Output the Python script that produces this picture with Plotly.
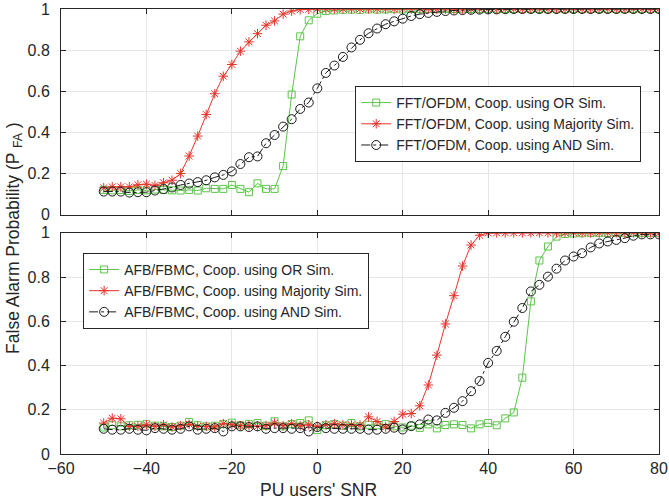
import plotly.graph_objects as go

snr = [-50, -48, -46, -44, -42, -40, -38, -36, -34, -32, -30, -28, -26, -24, -22, -20,
       -18, -16, -14, -12, -10, -8, -6, -4, -2, 0, 2, 4, 6, 8, 10, 12, 14, 16, 18, 20,
       22, 24, 26, 28, 30, 32, 34, 36, 38, 40, 42, 44, 46, 48, 50, 52, 54, 56, 58, 60,
       62, 64, 66, 68, 70, 72, 74, 76, 78, 80]

# Top panel: FFT/OFDM
ofdm_or = [0.12, 0.118, 0.12, 0.115, 0.12, 0.118, 0.122, 0.12, 0.118,
           0.117, 0.12, 0.117, 0.128, 0.125, 0.125, 0.144, 0.125, 0.109, 0.152, 0.125, 0.125,
           0.236, 0.584, 0.867, 0.945, 0.977, 0.99, 0.993, 0.996, 0.997, 0.996, 0.998, 0.997,
           0.998, 0.999, 0.998, 1.0, 0.999, 1.0, 0.999, 1.0, 1.0, 0.999, 1.0, 1.0, 1.0, 0.999,
           1.0, 1.0, 1.0, 1.0, 1.0, 0.999, 1.0, 1.0, 1.0, 1.0, 1.0, 1.0, 1.0, 1.0, 1.0, 1.0,
           1.0, 1.0, 1.0]
ofdm_maj = [0.13, 0.135, 0.135, 0.135, 0.145, 0.148, 0.142, 0.155, 0.167, 0.2, 0.285, 0.382,
            0.487, 0.588, 0.673, 0.73, 0.795, 0.84, 0.88, 0.921, 0.942, 0.975, 0.99, 0.997, 0.999,
            1.0, 1.0, 1.0, 1.0, 1.0, 1.0, 1.0, 1.0, 1.0, 1.0, 1.0, 1.0, 1.0, 1.0, 1.0, 1.0,
            1.0, 1.0, 1.0, 1.0, 1.0, 1.0, 1.0, 1.0, 1.0, 1.0, 1.0, 1.0, 1.0, 1.0, 1.0, 1.0,
            1.0, 1.0, 1.0, 1.0, 1.0, 1.0, 1.0, 1.0, 1.0]
ofdm_and = [0.112, 0.112, 0.112, 0.107, 0.109, 0.109, 0.117, 0.124, 0.132, 0.144, 0.151, 0.158,
            0.167, 0.181, 0.193, 0.21, 0.246, 0.279, 0.283, 0.347, 0.387, 0.428, 0.464, 0.514,
            0.545, 0.614, 0.689, 0.725, 0.767, 0.813, 0.85, 0.882, 0.905, 0.926, 0.94, 0.953,
            0.966, 0.975, 0.981, 0.986, 0.99, 0.993, 0.995, 0.996, 0.997, 0.998, 0.998, 0.999,
            1.0, 1.0, 1.0, 1.0, 1.0, 1.0, 1.0, 1.0, 1.0, 1.0, 1.0, 1.0, 1.0, 1.0, 1.0, 1.0,
            1.0, 1.0]

# Bottom panel: AFB/FBMC
fbmc_or = [0.12, 0.13, 0.125, 0.13, 0.132, 0.135, 0.128, 0.125, 0.122, 0.128, 0.145, 0.13,
           0.125, 0.128, 0.135, 0.142, 0.13, 0.135, 0.14, 0.128, 0.148, 0.125, 0.135, 0.14,
           0.152, 0.108, 0.13, 0.135, 0.128, 0.14, 0.125, 0.132, 0.13, 0.135, 0.125, 0.12,
           0.128, 0.118, 0.134, 0.116, 0.131, 0.134, 0.131, 0.116, 0.134, 0.14, 0.13, 0.161,
           0.188, 0.345, 0.69, 0.875, 0.938, 0.983, 0.995, 0.997, 0.998, 0.999, 1.0, 0.999,
           1.0, 1.0, 1.0, 1.0, 1.0, 1.0]
fbmc_maj = [0.14, 0.162, 0.159, 0.125, 0.125, 0.132, 0.125, 0.132, 0.122, 0.128, 0.135, 0.125,
            0.125, 0.122, 0.137, 0.132, 0.128, 0.128, 0.125, 0.128, 0.14, 0.128, 0.137, 0.128,
            0.132, 0.125, 0.132, 0.137, 0.132, 0.132, 0.13, 0.168, 0.147, 0.122, 0.147, 0.18,
            0.183, 0.218, 0.312, 0.447, 0.588, 0.716, 0.85, 0.945, 0.989, 0.999,
            1.0, 1.0, 1.0, 1.0, 1.0, 1.0, 1.0, 1.0, 1.0, 1.0, 1.0, 1.0, 1.0, 1.0, 1.0, 1.0,
            1.0, 1.0, 1.0, 1.0]
fbmc_and = [0.114, 0.11, 0.11, 0.114, 0.11, 0.107, 0.117, 0.114, 0.11, 0.114, 0.125, 0.11,
            0.114, 0.117, 0.102, 0.125, 0.125, 0.122, 0.125, 0.114, 0.117, 0.117, 0.114, 0.117,
            0.102, 0.122, 0.117, 0.114, 0.114, 0.114, 0.114, 0.11, 0.11, 0.114, 0.119, 0.111,
            0.126, 0.134, 0.156, 0.152, 0.186, 0.209, 0.239, 0.284, 0.33, 0.412, 0.466, 0.53,
            0.598, 0.66, 0.735, 0.765, 0.802, 0.838, 0.875, 0.893, 0.908, 0.934, 0.952, 0.961,
            0.968, 0.976, 0.987, 0.993, 0.993, 0.993]

x_ticks = [-60, -40, -20, 0, 20, 40, 60, 80]
y_ticks = [0, 0.2, 0.4, 0.6, 0.8, 1]
y_tick_text = ["0", "0.2", "0.4", "0.6", "0.8", "1"]

top_names = ["FFT/OFDM, Coop. using OR Sim.", "FFT/OFDM, Coop. using Majority Sim.",
             "FFT/OFDM, Coop. using AND Sim."]
bot_names = ["AFB/FBMC, Coop. using OR Sim.", "AFB/FBMC, Coop. using Majority Sim.",
             "AFB/FBMC, Coop. using AND Sim."]
x_title = "PU users' SNR"
y_title = "False Alarm Probability (P <sub>FA</sub> )"

GREEN = "#5cc44a"
RED = "#e5352b"
BLACK = "#1a1a1a"
AX = "#262626"
FONT = "Liberation Sans, Arial, sans-serif"
TICK_SIZE = 16
LEG_SIZE = 14
LAB_SIZE = 17.5

styles = [
    dict(color=GREEN, dash="solid", symbol="square-open", size=7),
    dict(color=RED, dash="solid", symbol="asterisk-open", size=8),
    dict(color=BLACK, dash="dashdot", symbol="circle-open", size=9),
]

fig = go.Figure()
for series, name, st in zip([ofdm_or, ofdm_maj, ofdm_and], top_names, styles):
    fig.add_trace(go.Scatter(
        x=snr, y=series, name=name, mode="lines+markers", xaxis="x", yaxis="y",
        legend="legend",
        line=dict(color=st["color"], width=1, dash=st["dash"]),
        marker=dict(symbol=st["symbol"], size=st["size"], color=st["color"],
                    line=dict(width=1, color=st["color"]))))
for series, name, st in zip([fbmc_or, fbmc_maj, fbmc_and], bot_names, styles):
    fig.add_trace(go.Scatter(
        x=snr, y=series, name=name, mode="lines+markers", xaxis="x2", yaxis="y2",
        legend="legend2",
        line=dict(color=st["color"], width=1, dash=st["dash"]),
        marker=dict(symbol=st["symbol"], size=st["size"], color=st["color"],
                    line=dict(width=1, color=st["color"]))))

axis_common = dict(showline=True, linecolor=AX, linewidth=1, mirror="ticks",
                   ticks="inside", ticklen=5, tickcolor=AX, automargin=False,
                   showgrid=True, gridcolor="#e6e6e6", gridwidth=1, zeroline=False,
                   ticklabeloverflow="allow",
                   tickfont=dict(family=FONT, size=TICK_SIZE, color=AX))

fig.update_layout(
    template="none",
    width=669, height=503,
    margin=dict(l=61, r=10, t=9, b=49),
    paper_bgcolor="white", plot_bgcolor="white",
    font=dict(family=FONT, size=TICK_SIZE, color=AX),
    xaxis=dict(domain=[0, 1], anchor="y", range=[-60, 80], tickvals=x_ticks,
               showticklabels=False, matches="x2", **axis_common),
    yaxis=dict(domain=[0.538, 1], anchor="x", range=[0, 1], tickvals=y_ticks,
               ticktext=y_tick_text, ticklabelstandoff=7, **axis_common),
    xaxis2=dict(domain=[0, 1], anchor="y2", range=[-60, 80], tickvals=x_ticks,
                ticklabelstandoff=0, **axis_common),
    yaxis2=dict(domain=[0, 0.497], anchor="x2", range=[0, 1], tickvals=y_ticks,
                ticktext=y_tick_text, ticklabelstandoff=7, **axis_common),
    legend=dict(x=0.492, y=0.827, xanchor="left", yanchor="top",
                bgcolor="white", bordercolor=AX, borderwidth=1,
                font=dict(family=FONT, size=LEG_SIZE, color=AX), tracegroupgap=0),
    legend2=dict(x=0.037, y=0.452, xanchor="left", yanchor="top",
                 bgcolor="white", bordercolor=AX, borderwidth=1,
                 font=dict(family=FONT, size=LEG_SIZE, color=AX), tracegroupgap=0),
    annotations=[
        dict(text=y_title, xref="paper", yref="paper", x=-0.079, y=0.485,
             xanchor="center", yanchor="middle", textangle=-90, showarrow=False,
             font=dict(family=FONT, size=LAB_SIZE, color=AX)),
        dict(text=x_title, xref="paper", yref="paper", x=0.431, y=-0.08,
             xanchor="center", yanchor="middle", showarrow=False,
             font=dict(family=FONT, size=LAB_SIZE, color=AX)),
    ],
)

fig.write_html("out.html", config={"displayModeBar": False},
               post_script="document.body.style.margin='0';")
